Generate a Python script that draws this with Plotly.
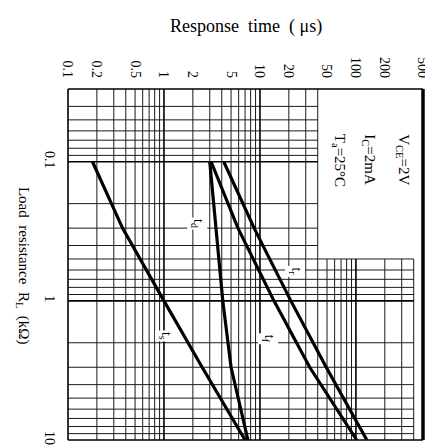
import math
import plotly.graph_objects as go

# ---- data ----
R_load = [0.1, 0.3, 1, 3, 10]          # load resistance, kOhm
t_s = [0.18, 0.37, 1.0, 2.5, 7.0]      # us
t_d = [3.0, 3.45, 4.1, 5.0, 7.5]       # us
t_f = [3.1, 5.9, 14, 33, 102]          # us
t_r = [4.2, 8.7, 21, 49, 130]          # us

x_ticks = [0.1, 0.2, 0.5, 1, 2, 5, 10, 20, 50, 100, 200, 500]
x_tick_text = ["0.1", "0.2", "0.5", "1", "2", "5", "10", "20", "50", "100", "200", "500"]
y_ticks = [0.1, 1, 10]
y_tick_text = ["0.1", "1", "10"]

x_min, x_max = 0.1, 500
y_min, y_max = 0.03, 10
x_box, y_box = 40, 0.5      # corner of the blank (condition) box, upper right
x_grid_end = 400            # right end of the lower grid

x_grid_full = [0.2, 0.3, 0.4, 0.5, 0.6, 0.7, 0.8, 0.9, 2, 3, 4, 5, 6, 7, 8, 9, 20, 30, 40]
x_grid_lower = [50, 60, 70, 80, 90, 200, 300, 400]
x_grid_major = [1, 10]
x_grid_major_lower = [100]
y_grid_upper = [0.04, 0.05, 0.06, 0.07, 0.08, 0.09, 0.2, 0.3, 0.4]
y_grid_lower = [0.6, 0.7, 0.8, 0.9, 2, 3, 4, 5, 6, 7, 8, 9]
y_grid_major = [0.1]
y_grid_major_lower = [1]

FONT = "Liberation Serif"


def segs(vertical, vals, a0, a1):
    xs, ys = [], []
    for v in vals:
        if vertical:
            xs += [v, v, None]
            ys += [a0, a1, None]
        else:
            xs += [a0, a1, None]
            ys += [v, v, None]
    return xs, ys


fig = go.Figure()

thin_x, thin_y = [], []
for vertical, vals, a0, a1 in [
    (True, x_grid_full, y_min, y_max),
    (True, x_grid_lower, y_box, y_max),
    (False, y_grid_upper, x_min, x_box),
    (False, y_grid_lower + [y_box], x_min, x_grid_end),
]:
    a, b = segs(vertical, vals, a0, a1)
    thin_x += a
    thin_y += b
fig.add_trace(go.Scatter(x=thin_x, y=thin_y, mode="lines",
                         line=dict(color="#1a1a1a", width=1), hoverinfo="skip", showlegend=False))

maj_x, maj_y = [], []
for vertical, vals, a0, a1 in [
    (True, x_grid_major, y_min, y_max),
    (True, x_grid_major_lower, y_box, y_max),
    (False, y_grid_major, x_min, x_box),
    (False, y_grid_major_lower, x_min, x_grid_end),
]:
    a, b = segs(vertical, vals, a0, a1)
    maj_x += a
    maj_y += b
fig.add_trace(go.Scatter(x=maj_x, y=maj_y, mode="lines",
                         line=dict(color="#000000", width=1.6), hoverinfo="skip", showlegend=False))

for name, vals in [("t_s", t_s), ("t_d", t_d), ("t_f", t_f), ("t_r", t_r)]:
    fig.add_trace(go.Scatter(x=vals, y=R_load, mode="lines", name=name,
                             line=dict(color="#000000", width=3.2), showlegend=False))

# frame: thin left/top/bottom, thick right edge (paper coordinates -> not clipped)
shapes = [
    dict(type="line", xref="paper", yref="paper", x0=0, x1=0, y0=0, y1=1,
         line=dict(color="black", width=1.6)),
    dict(type="line", xref="paper", yref="paper", x0=0, x1=1, y0=1, y1=1,
         line=dict(color="black", width=1.4)),
    dict(type="line", xref="paper", yref="paper", x0=0, x1=1, y0=0, y1=0,
         line=dict(color="black", width=1.6)),
    dict(type="line", xref="paper", yref="paper", x0=1, x1=1, y0=0, y1=1,
         line=dict(color="black", width=3.5)),
]

annotations = []
# curve labels (log10 coordinates for annotations on log axes)
for txt, tx, ry in [("t<sub>s</sub>", 1.02, 1.78), ("t<sub>d</sub>", 2.2, 0.28),
                    ("t<sub>f</sub>", 12.1, 1.87), ("t<sub>r</sub>", 23.5, 0.61)]:
    annotations.append(dict(x=math.log10(tx), y=math.log10(ry), xref="x", yref="y",
                            text=txt, textangle=90, showarrow=False, bgcolor="white",
                            font=dict(family=FONT, size=14, color="black")))

# measurement conditions
for txt, px in [("V<sub>CE</sub>=2V", 0.944), ("I<sub>C</sub>=2mA", 0.848), ("T<sub>a</sub>=25°C", 0.762)]:
    annotations.append(dict(x=px, y=0.878, xref="paper", yref="paper", text=txt,
                            textangle=90, showarrow=False, xanchor="center", yanchor="top",
                            font=dict(family=FONT, size=15, color="black")))

annotations.append(dict(x=0.5, y=1.177, xref="paper", yref="paper",
                        text="Response  time  ( μs)", showarrow=False,
                        xanchor="center", yanchor="middle",
                        font=dict(family=FONT, size=18, color="black")))
annotations.append(dict(x=-0.125, y=0.497, xref="paper", yref="paper",
                        text="Load  resistance  R<sub>L</sub>  (kΩ)", showarrow=False,
                        textangle=90, xanchor="center", yanchor="middle",
                        font=dict(family=FONT, size=15, color="black")))

fig.update_layout(
    width=433, height=448,
    margin=dict(l=60, r=15, t=81, b=11),
    paper_bgcolor="white", plot_bgcolor="white",
    annotations=annotations,
    shapes=shapes,
    xaxis=dict(type="log", side="top", range=[math.log10(x_min), math.log10(x_max)],
               tickvals=x_ticks, ticktext=x_tick_text, tickangle=90,
               showgrid=False, zeroline=False, showline=False, ticks="",
               ticklabelstandoff=8,
               tickfont=dict(family=FONT, size=14, color="black")),
    yaxis=dict(type="log", range=[math.log10(y_max), math.log10(y_min)],
               tickvals=y_ticks, ticktext=y_tick_text, tickangle=90,
               showgrid=False, zeroline=False, showline=False, ticks="",
               ticklabelstandoff=8,
               tickfont=dict(family=FONT, size=14, color="black")),
)

fig.write_html("out.html")
